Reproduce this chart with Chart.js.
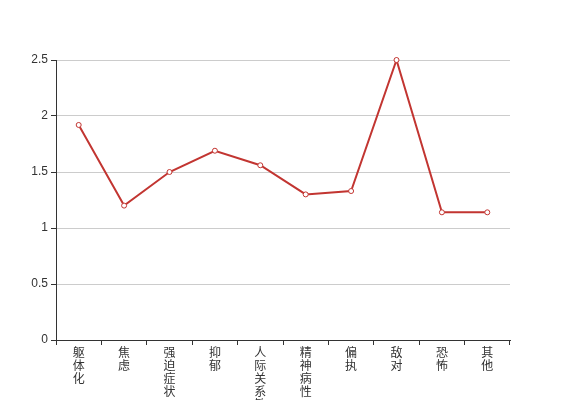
<!DOCTYPE html>
<html>
<head>
<meta charset="utf-8">
<script src="https://cdn.jsdelivr.net/npm/chart.js@4"></script>
<style>
  html, body { margin: 0; padding: 0; background: #fff; }
  #wrap { width: 567px; height: 400px; }
</style>
</head>
<body>
<div id="wrap"><canvas id="chart"></canvas></div>
<script>
const categories = ["躯体化", "焦虑", "强迫症状", "抑郁", "人际关系敏感", "精神病性", "偏执", "敌对", "恐怖", "其他"];
const scores = [1.92, 1.2, 1.5, 1.69, 1.56, 1.3, 1.33, 2.5, 1.14, 1.14];
const yTicks = [0, 0.5, 1, 1.5, 2, 2.5];

const fontFamily = '"Liberation Sans", "Noto Sans CJK SC", sans-serif';

new Chart(document.getElementById("chart"), {
    type: 'line',
    data: {
        // each label split into single characters so they stack vertically
        labels: categories.map(c => c.split("")),
        datasets: [{
            data: scores,
            borderColor: '#c23531',
            borderWidth: 2,
            backgroundColor: '#fff',
            pointBackgroundColor: '#fff',
            pointBorderColor: '#c23531',
            pointBorderWidth: 1,
            pointRadius: 2.5,
            tension: 0,
            fill: false,
            clip: false
        }]
    },
    options: {
        responsive: true,
        maintainAspectRatio: false,
        animation: false,
        layout: { padding: { left: 0, right: 57, top: 60, bottom: 0 } },
        plugins: { legend: { display: false }, tooltip: { enabled: false } },
        scales: {
            x: {
                offset: true,
                grid: { drawOnChartArea: false, drawTicks: true, offset: true, tickLength: 5, tickColor: '#333' },
                border: { color: '#333', width: 1 },
                ticks: {
                    autoSkip: false,
                    maxRotation: 0,
                    color: '#333',
                    padding: 2,
                    font: { family: fontFamily, size: 12, lineHeight: 1.08 }
                },
                afterFit: scale => { scale.height = 60; }
            },
            y: {
                min: 0,
                max: 2.5,
                afterBuildTicks: scale => { scale.ticks = yTicks.map(v => ({ value: v })); },
                grid: { color: '#ccc', tickLength: 5, tickColor: '#333' },
                border: { color: '#333', width: 1 },
                ticks: {
                    color: '#333',
                    padding: 3,
                    font: { family: fontFamily, size: 12 },
                    callback: v => String(v)
                },
                afterFit: scale => { scale.width = 56; }
            }
        }
    }
});
</script>
</body>
</html>
